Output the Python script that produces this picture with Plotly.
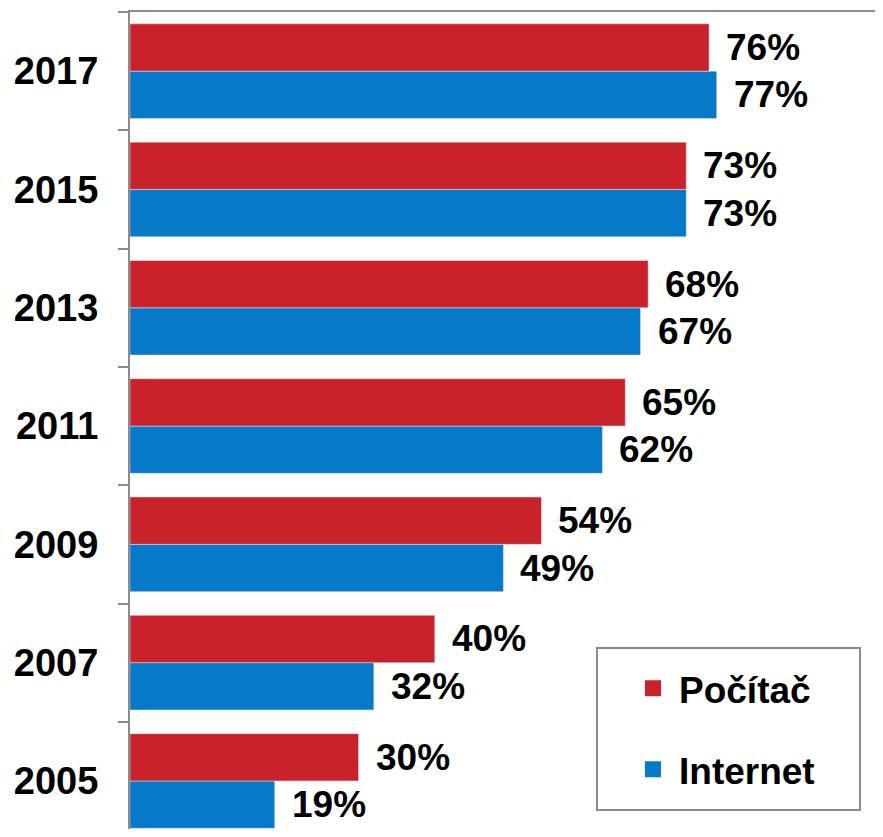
import plotly.graph_objects as go

years = ["2005", "2007", "2009", "2011", "2013", "2015", "2017"]
pocitac = [30, 40, 54, 65, 68, 73, 76]
internet = [19, 32, 49, 62, 67, 73, 77]
series_names = ["Počítač", "Internet"]

RED = "#C9222A"
BLUE = "#0679C8"
GRAY = "#8C8C8C"
FONT = "Arial, Liberation Sans, sans-serif"
FS = 37

# page body has an 8px margin; plot area spans x 130..875, y 12..829 on screen
L, T = 122, 4
W, H = 867, 821
PX0, PY1 = 130, 829
PW, PH = W - L, H - T

fig = go.Figure()
# Internet first so it sits lower within each group (horizontal bars)
fig.add_trace(go.Bar(y=years, x=internet, orientation="h", marker_color=BLUE,
                     name=series_names[1], showlegend=False))
fig.add_trace(go.Bar(y=years, x=pocitac, orientation="h", marker_color=RED,
                     name=series_names[0], showlegend=False))

# legend proxies
fig.add_trace(go.Scatter(x=[None], y=[None], mode="markers", name=series_names[0],
                         marker=dict(symbol="square", size=20, color=RED),
                         legendgroup="a"))
fig.add_trace(go.Scatter(x=[None], y=[None], mode="markers", name=series_names[1],
                         marker=dict(symbol="square", size=20, color=BLUE),
                         legendgroup="b"))

annotations = []
for idx, (p, i) in enumerate(zip(pocitac, internet)):
    annotations.append(dict(x=p, y=idx, xref="x", yref="y", text=f"{p}%", showarrow=False,
                            xanchor="left", yanchor="middle", xshift=15, yshift=23.7,
                            font=dict(family=FONT, size=FS, color="black", weight="bold")))
    annotations.append(dict(x=i, y=idx, xref="x", yref="y", text=f"{i}%", showarrow=False,
                            xanchor="left", yanchor="middle", xshift=15, yshift=-23.7,
                            font=dict(family=FONT, size=FS, color="black", weight="bold")))

fig.update_layout(
    width=W, height=H,
    margin=dict(l=L, r=0, t=T, b=0, autoexpand=False),
    paper_bgcolor="white", plot_bgcolor="white",
    barmode="group", bargap=0.2, bargroupgap=0,
    annotations=annotations,
    showlegend=True,
    legend=dict(x=(627 - PX0) / PW, y=0.2097, xanchor="left", yanchor="top",
                bgcolor="rgba(0,0,0,0)", borderwidth=0,
                traceorder="grouped", tracegroupgap=30, itemwidth=42,
                font=dict(family=FONT, size=FS, color="black", weight="bold")),
    xaxis=dict(range=[0, PW / 7.62], side="top", showline=True, linecolor=GRAY, linewidth=2,
               showticklabels=False, showgrid=False, zeroline=False, ticks="",
               automargin=False),
    yaxis=dict(type="category", categoryorder="array", categoryarray=years,
               range=[6.5 - PH / 118.3, 6.5], showline=True, linecolor=GRAY, linewidth=2,
               ticks="outside", tickson="boundaries", ticklen=10, tickcolor=GRAY,
               tickwidth=2, showgrid=False, ticklabelstandoff=22, automargin=False,
               tickfont=dict(family=FONT, size=38, color="black", weight="bold")),
    shapes=[dict(type="rect", xref="paper", yref="paper",
                 x0=(597 - PX0) / PW, x1=(860 - PX0) / PW,
                 y0=(PY1 - 810) / PH, y1=(PY1 - 648) / PH,
                 line=dict(color=GRAY, width=2), fillcolor="rgba(0,0,0,0)")],
)

fig.write_html("out.html")
